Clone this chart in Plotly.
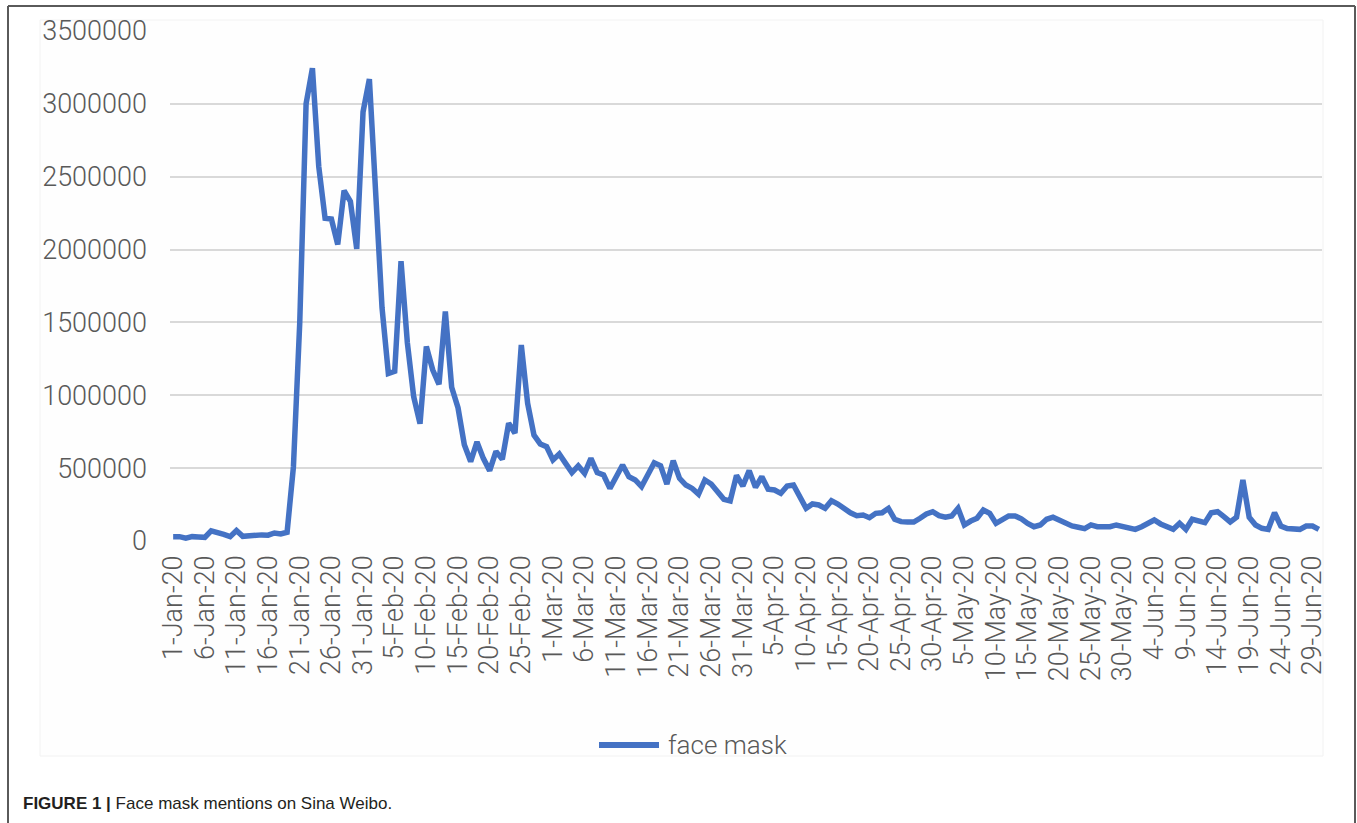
import pandas as pd
import plotly.graph_objects as go

# Daily counts of "face mask" mentions, one list per month (2020)
jan = [30000, 30000, 20000, 30000, 28000, 25000, 70000, 62000, 45000, 30000,
       72000, 32000, 38000, 45000, 42000, 40000, 55000, 48000, 60000, 510000,
       1500000, 3000000, 3245000, 2570000, 2215000, 2210000, 2035000, 2405000,
       2330000, 2005000, 2945000]
feb = [3170000, 2300000, 1600000, 1150000, 1165000, 1920000, 1360000, 990000,
       805000, 1335000, 1175000, 1075000, 1575000, 1055000, 915000, 660000,
       545000, 680000, 567000, 483000, 615000, 560000, 808000, 740000, 1345000,
       945000, 727000, 666000, 647000]
mar = [556000, 597000, 533000, 469000, 515000, 464000, 567000, 469000, 453000,
       361000, 441000, 522000, 441000, 419000, 373000, 453000, 537000, 517000,
       391000, 551000, 430000, 384000, 361000, 322000, 419000, 391000, 338000,
       286000, 275000, 450000, 377000]
apr = [483000, 368000, 441000, 355000, 350000, 327000, 377000, 384000, 304000,
       224000, 254000, 247000, 224000, 277000, 254000, 222000, 194000, 174000,
       178000, 160000, 190000, 194000, 224000, 149000, 133000, 130000, 130000,
       156000, 185000, 201000]
may = [174000, 163000, 172000, 224000, 110000, 137000, 156000, 213000, 190000,
       121000, 144000, 172000, 172000, 152000, 121000, 98000, 110000, 149000,
       163000, 144000, 121000, 103000, 94000, 85000, 110000, 98000, 98000,
       98000, 110000, 98000, 87000]
jun = [80000, 98000, 121000, 144000, 117000, 94000, 80000, 121000, 80000,
       149000, 140000, 126000, 194000, 201000, 167000, 131000, 163000, 419000,
       163000, 110000, 87000, 80000, 194000, 103000, 85000, 80000, 80000,
       103000, 103000, 80000]

mentions = jan + feb + mar + apr + may + jun
dates = pd.date_range("2020-01-01", "2020-06-30", freq="D")
labels = [f"{d.day}-{d.strftime('%b')}-{d.strftime('%y')}" for d in dates]
tick_labels = labels[::5]
y_ticks = [0, 500000, 1000000, 1500000, 2000000, 2500000, 3000000, 3500000]

series_name = "face mask"
caption_bold = "FIGURE 1 |"
caption_text = "Face mask mentions on Sina Weibo."

W, H = 1357, 823
ML, MR, MT, MB = 170, W - 1322, 31, H - 541
LINE = "#4472C4"
GRID = "#d9d9d9"
TXT = "#595959"
FONT = "Roboto, Open Sans, sans-serif"

pw, ph = W - ML - MR, H - MT - MB


def px(x):
    return (x - ML) / pw


def py(y):
    return (H - MB - y) / ph


fig = go.Figure()
fig.add_trace(go.Scatter(
    x=labels, y=mentions, mode="lines", name=series_name,
    line=dict(color=LINE, width=5.5, shape="linear"),
    showlegend=False,
))

shapes = [
    # soft chart-area panel
    dict(type="rect", xref="paper", yref="paper", x0=px(40), x1=px(1323),
         y0=py(756), y1=py(20), fillcolor="#fefefe",
         line=dict(color="#f2f2f2", width=1), layer="below"),
    # page frame
    dict(type="line", xref="paper", yref="paper", x0=px(8), x1=px(8),
         y0=py(6), y1=py(H + 5), line=dict(color="#5a5a5a", width=2)),
    dict(type="line", xref="paper", yref="paper", x0=px(1355), x1=px(1355),
         y0=py(6), y1=py(H + 5), line=dict(color="#5a5a5a", width=2)),
    dict(type="line", xref="paper", yref="paper", x0=px(8), x1=px(1355),
         y0=py(6), y1=py(6), line=dict(color="#5a5a5a", width=2)),
    # legend swatch
    dict(type="line", xref="paper", yref="paper", x0=px(599), x1=px(659),
         y0=py(745), y1=py(745), line=dict(color=LINE, width=6)),
]

annotations = [
    dict(xref="paper", yref="paper", x=px(666), y=py(745), xanchor="left",
         yanchor="middle", text=series_name, showarrow=False,
         font=dict(family=FONT, size=26, color=TXT, weight=300)),
    dict(xref="paper", yref="paper", x=px(21), y=py(803), xanchor="left",
         yanchor="middle",
         text=f"<b>{caption_bold}</b> {caption_text}", showarrow=False,
         font=dict(family="Liberation Sans Narrow, Liberation Sans, Arial",
                   size=17, color="#231f20")),
]

fig.update_layout(
    width=W, height=H,
    margin=dict(l=ML, r=MR, t=MT, b=MB),
    paper_bgcolor="white", plot_bgcolor="rgba(0,0,0,0)",
    shapes=shapes, annotations=annotations,
    font=dict(family=FONT, color=TXT),
)
fig.update_xaxes(
    type="category", range=[-0.5, len(labels) - 0.5],
    tickmode="array", tickvals=tick_labels, ticktext=tick_labels,
    tickangle=-90, tickfont=dict(size=27, color=TXT, family=FONT, weight=300),
    showgrid=False, showline=False, zeroline=False, ticks="",
    ticklabelstandoff=8,
)
fig.update_yaxes(
    range=[0, 3500000], tickmode="array", tickvals=y_ticks,
    tickformat="d", tickfont=dict(size=27, color=TXT, family=FONT, weight=300),
    showgrid=True, gridcolor=GRID, gridwidth=2, zeroline=False,
    showline=False, ticks="", ticklabelstandoff=22,
)

fig.write_html("out.html")
